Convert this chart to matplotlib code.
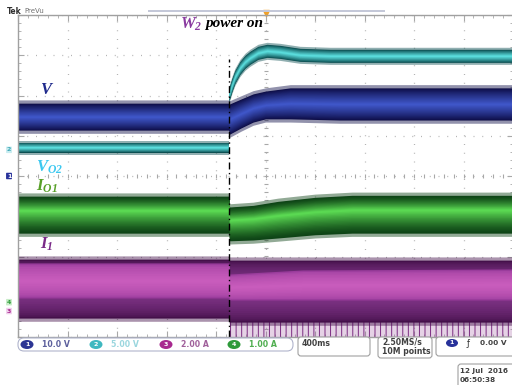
import numpy as np
import matplotlib
matplotlib.use('Agg')
import matplotlib.pyplot as plt
from matplotlib.patches import FancyBboxPatch, Ellipse, Rectangle
from matplotlib.ticker import MultipleLocator
from matplotlib.colors import to_rgb
from matplotlib.transforms import IdentityTransform

W, H = 512, 385

# timebase: 400 ms/div, trigger at centre, W2 switched on at T_ON
SEC_PER_DIV = 0.4
T_ON = -0.296

# ch1: V, 10 V/div, ground at 0 div
v_scale, v_gnd = 10.0, 0.0
v_t = [-2.0, T_ON, -0.29, -0.2, -0.1, 0.0, 0.2, 0.6, 2.0]
v_hi = [18.1, 18.1, 17.9, 19.1, 20.4, 21.1, 21.9, 21.9, 21.9]
v_lo = [11.4, 11.4, 10.4, 11.9, 13.4, 14.2, 14.2, 13.9, 13.9]

# ch2: VO2, 5 V/div
vo2_scale, vo2_gnd = 5.0, 0.65
vo2_t_pre = [-2.0, T_ON]
vo2_pre = [0.25, 0.25]
vo2_t = [T_ON, -0.271, -0.247, -0.206, -0.166, -0.126, -0.061, 0.012, 0.117, 0.279, 0.522, 2.0]
vo2 = [6.83, 8.07, 9.07, 10.19, 10.93, 11.43, 12.05, 12.30, 12.17, 11.80, 11.68, 11.68]
vo2_ripple_pre, vo2_ripple = 0.62, 0.81

# ch4: IO1, 1 A/div
io1_scale, io1_gnd = 1.0, -3.16
io1_t = [-2.0, T_ON, -0.29, -0.1, 0.1, 0.4, 0.7, 2.0]
io1_hi = [2.66, 2.66, 2.39, 2.43, 2.53, 2.63, 2.68, 2.68]
io1_lo = [1.74, 1.74, 1.55, 1.57, 1.62, 1.70, 1.74, 1.74]

# ch3: I1, 2 A/div
i1_scale, i1_gnd = 2.0, -3.33
i1_t = [-2.0, T_ON, -0.29, 0.3, 2.0]
i1_hi = [2.53, 2.53, 2.48, 2.48, 2.48]
i1_lo = [-0.40, -0.40, -0.60, -0.60, -0.60]
i1_core_hi = [2.34, 2.34, 1.79, 1.99, 2.04]
i1_core_lo = [0.60, 0.60, 0.50, 0.50, 0.50]
i1_spike_t = [-0.29, 2.0]
i1_spike_lo = [-1.34, -1.34]

channels = [("1", 0.0, "#28329a", "white", 0), ("2", 0.65, "#c8ecf0", "#40a8b8", 0),
            ("4", -3.16, "#c8ecc8", "#2e9a3a", 1), ("3", -3.33, "#f0d0ec", "#a8288f", -1)]
readouts = [("1", "10.0 V", "#2c3594", "#5c5f9c"),
            ("2", "5.00 V", "#3fb8c0", "#9ad6de"),
            ("3", "2.00 A", "#a8288f", "#a0609a"),
            ("4", "1.00 A", "#2e9a3a", "#4fae4f")]


def to_div(vals, scale, gnd):
    return np.asarray(vals, dtype=float) / scale + gnd


def band(ax, t, lo, hi, edge, core, p=0.5, n=18, fuzz=0.08, gamma=0.9):
    # noisy trace drawn as nested fills shading from the envelope edge into the core
    t = np.asarray(t)
    mid = lo + (hi - lo) * p
    e, c = np.array(to_rgb(edge)), np.array(to_rgb(core))
    if fuzz:
        ax.fill_between(t, lo - fuzz, hi + fuzz, color=edge, alpha=0.45, lw=0)
    for k in range(n):
        f = 1 - k / n
        col = e + (c - e) * (k / (n - 1)) ** gamma
        ax.fill_between(t, mid - (mid - lo) * f, mid + (hi - mid) * f, color=col, lw=0)


plt.rcParams['mathtext.fontset'] = 'custom'
plt.rcParams['mathtext.it'] = 'Liberation Serif:bold:italic'
plt.rcParams['mathtext.rm'] = 'Liberation Serif:bold:italic'
plt.rcParams['mathtext.bf'] = 'Liberation Serif:bold:italic'
plt.rcParams['hatch.linewidth'] = 0.7

fig = plt.figure(figsize=(W / 100, H / 100), dpi=100)
fig.patch.set_facecolor('white')
ax = fig.add_axes([18 / W, 1 - 337 / H, 495 / W, 322 / H])
ax.set_xlim(-5 * SEC_PER_DIV, 5 * SEC_PER_DIV)
ax.set_ylim(-4, 4)
ax.set_axisbelow(True)

# graticule
ax.xaxis.set_major_locator(MultipleLocator(SEC_PER_DIV))
ax.xaxis.set_minor_locator(MultipleLocator(SEC_PER_DIV / 5))
ax.yaxis.set_major_locator(MultipleLocator(1))
ax.yaxis.set_minor_locator(MultipleLocator(0.2))
ax.grid(True, which='major', color='#b4b4b4', linestyle=(0, (0.8, 6.2)), lw=0.9)
ax.tick_params(which='both', direction='in', top=True, right=True, color='#a8a8a8',
               labelbottom=False, labelleft=False)
ax.tick_params(which='major', length=4)
ax.tick_params(which='minor', length=2)
for s in ax.spines.values():
    s.set_color('#a0a0a0')
    s.set_linewidth(1.0)
minor_x = np.arange(-2.0, 2.0001, SEC_PER_DIV / 5)
minor_y = np.arange(-4, 4.0001, 0.2)
ax.plot(minor_x, np.zeros_like(minor_x), ls='none', marker='|', ms=3.5, color='#a8a8a8',
        mew=0.8, zorder=0.6)
ax.plot(np.zeros_like(minor_y), minor_y, ls='none', marker='_', ms=3.5, color='#a8a8a8',
        mew=0.8, zorder=0.6)

# I1
t = np.asarray(i1_t)
ax.fill_between(i1_spike_t, to_div(i1_spike_lo, i1_scale, i1_gnd),
                to_div([-0.60, -0.60], i1_scale, i1_gnd),
                facecolor=(0.6, 0.3, 0.6, 0.25), edgecolor='#7a2a80', hatch='|||', lw=0)
band(ax, t, to_div(i1_lo, i1_scale, i1_gnd), to_div(i1_hi, i1_scale, i1_gnd),
     '#44104a', '#8a3a92', p=0.55, gamma=0.6)
band(ax, t, to_div(i1_core_lo, i1_scale, i1_gnd), to_div(i1_core_hi, i1_scale, i1_gnd),
     '#9a3c9c', '#c85cbc', p=0.5, n=10, fuzz=0, gamma=0.5)

# IO1
t = np.asarray(io1_t)
band(ax, t, to_div(io1_lo, io1_scale, io1_gnd), to_div(io1_hi, io1_scale, io1_gnd),
     '#0e4416', '#5ad852', p=0.62, gamma=1.3)

# V
t = np.asarray(v_t)
band(ax, t, to_div(v_lo, v_scale, v_gnd), to_div(v_hi, v_scale, v_gnd),
     '#0e0e48', '#3f56c8', p=0.5, gamma=0.9)

# VO2
for tt, yy, r in [(vo2_t_pre, vo2_pre, vo2_ripple_pre), (vo2_t, vo2, vo2_ripple)]:
    yy = np.asarray(yy)
    band(ax, np.asarray(tt), to_div(yy - r, vo2_scale, vo2_gnd),
         to_div(yy + r, vo2_scale, vo2_gnd), '#0c4f52', '#5adcdc', n=10, fuzz=0.05)

# switching instant
ax.plot([T_ON, T_ON], [-4, 2.9], color='black', lw=1.0, ls=(0, (5, 2.5, 1, 2.5)))

# trigger position marker
ax.plot([0], [4.05], marker='v', ms=4, color='#f0a028', clip_on=False)

# channel ground markers (4 and 3 sit almost on top of each other)
for num, lvl, col, tcol, nudge in channels:
    ax.annotate(num, xy=(0, lvl), xycoords=('axes fraction', 'data'), xytext=(-9, nudge),
                textcoords='offset pixels', ha='center', va='center', fontsize=4.5,
                color=tcol, weight='bold',
                bbox=dict(boxstyle='round,pad=0.12', fc=col, ec='none'))

# trace labels
def ftext(x, y, s, **kw):
    fig.text(x / W, 1 - y / H, s, **kw)

serif = dict(family='Liberation Serif', style='italic', weight='bold', va='center')
ftext(40, 90, r'$V$', color='#1f2a8c', fontsize=12, **serif)
ftext(36, 167, r'$V_{O2}$', color='#3cc8f0', fontsize=12, **serif)
ftext(36, 186, r'$I_{O1}$', color='#58a028', fontsize=12, **serif)
ftext(40, 244, r'$I_1$', color='#7a2a88', fontsize=12, **serif)
ftext(180, 24, r'$W_2$', color='#8a3aa0', fontsize=12, **serif)
ftext(205, 23, 'power on', color='black', fontsize=11, **serif)

# header
ftext(7, 11, 'Tek', color='#303030', fontsize=5.5, weight='bold', va='center')
ftext(24, 11, 'PreVu', color='#707070', fontsize=5, va='center')
fig.add_artist(Rectangle((148, H - 12), 237, 2.5, transform=IdentityTransform(),
                         fc='#c4c8d8', ec='none'))

# status bar
def rbox(x0, y0, x1, y1, ec='#a0a0a0', fc='white', r=3):
    fig.add_artist(FancyBboxPatch((x0, H - y1), x1 - x0, y1 - y0,
                                  boxstyle=f'round,pad=0,rounding_size={r}',
                                  transform=IdentityTransform(), fc=fc, ec=ec, lw=0.8))

rbox(18, 338, 293, 351, ec='#b0b4cc', r=6)
for i, (num, txt, col, tcol) in enumerate(readouts):
    cx = [27, 96, 166, 234][i]
    fig.add_artist(Ellipse((cx, H - 344.5), 13, 9, transform=IdentityTransform(), fc=col, ec='none'))
    ftext(cx, 344.5, num, color='white', fontsize=4.5, ha='center', va='center', weight='bold')
    ftext(cx + 15, 344.5, txt, color=tcol, fontsize=5.6, va='center', weight='bold')

rbox(298, 337, 370, 356)
ftext(302, 343, '400ms', color='#404040', fontsize=5.6, va='center', weight='bold')
rbox(378, 337, 432, 358)
ftext(382, 342, '2.50MS/s', color='#404040', fontsize=5.6, va='center', weight='bold')
ftext(382, 351.5, '10M points', color='#404040', fontsize=5.6, va='center', weight='bold')
rbox(436, 337, 520, 356)
fig.add_artist(Ellipse((452, H - 343), 12, 8, transform=IdentityTransform(), fc='#28329a', ec='none'))
ftext(452, 343, '1', color='white', fontsize=4.5, ha='center', va='center', weight='bold')
ftext(467, 343, 'ƒ', color='#303030', fontsize=6, va='center')
ftext(480, 343, '0.00 V', color='#404040', fontsize=5.3, va='center', weight='bold')
rbox(458, 364, 520, 390)
ftext(460, 371, '12 Jul  2016', color='#404040', fontsize=5.2, va='center', weight='bold')
ftext(460, 380, '06:50:38', color='#404040', fontsize=5.2, va='center', weight='bold')

fig.savefig('out.png', dpi=100)
